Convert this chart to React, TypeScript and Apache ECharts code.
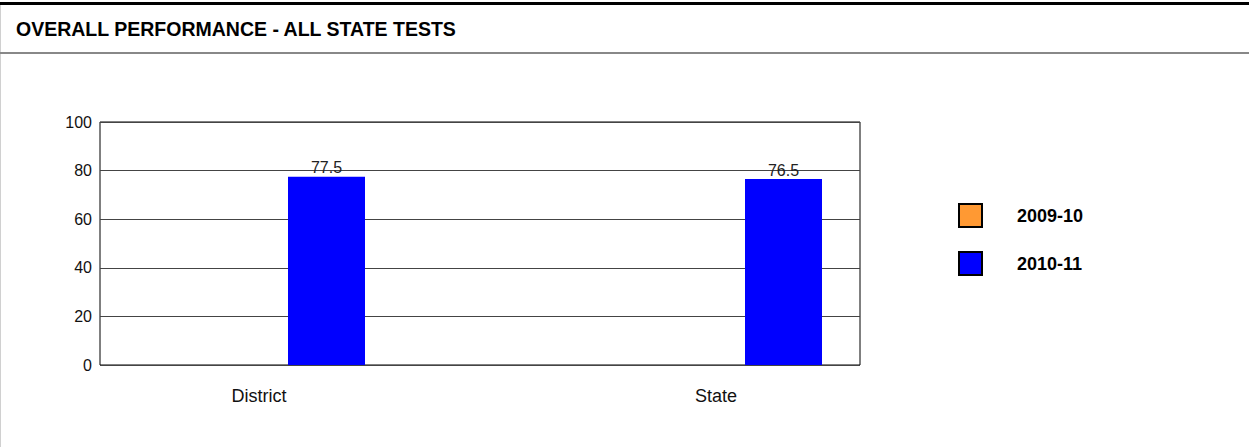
import React, { useEffect, useRef } from "react";
import * as echarts from "echarts";

const categories = ["District", "State"];
const seriesNames = ["2009-10", "2010-11"];
const values2009 = [null, null];
const values2010 = [77.5, 76.5];
const yTicks = [0, 20, 40, 60, 80, 100];

const FONT = "'Liberation Sans', Arial, Helvetica, sans-serif";

export default function App() {
  const ref = useRef<HTMLDivElement>(null);
  useEffect(() => {
    document.body.style.margin = "0";
    document.body.style.overflow = "hidden";
    const chart = echarts.init(ref.current!, null, { renderer: "svg" });
    chart.setOption({
      animation: false,
      backgroundColor: "#ffffff",
      textStyle: { fontFamily: FONT },
      graphic: [
        { type: "rect", shape: { x: 0, y: 2, width: 1249, height: 3 }, style: { fill: "#000" } },
        { type: "rect", shape: { x: 0, y: 5, width: 1, height: 442 }, style: { fill: "#d0d0d0" } },
        { type: "rect", shape: { x: 0, y: 52, width: 1249, height: 2 }, style: { fill: "#888888" } },
        {
          type: "text",
          x: 16,
          y: 29,
          style: {
            text: "OVERALL PERFORMANCE - ALL STATE TESTS",
            fontFamily: FONT,
            fontSize: 19.5,
            fontWeight: "bold",
            fill: "#000",
            verticalAlign: "middle",
          },
        },
      ],
      legend: {
        orient: "vertical",
        left: 953,
        top: 198,
        itemWidth: 23,
        itemHeight: 23,
        itemGap: 23,
        icon: "rect",
        selectedMode: false,
        itemStyle: { borderColor: "#000", borderWidth: 2 },
        textStyle: {
          fontFamily: FONT,
          fontSize: 18,
          fontWeight: "bold",
          color: "#000",
          padding: [0, 0, 0, 30],
        },
        data: seriesNames,
      },
      grid: [
        { left: 100, top: 122, width: 760, height: 243, show: true, borderColor: "#000", borderWidth: 1, backgroundColor: "transparent" },
        { left: 59.5, top: 122, width: 914, height: 243 },
      ],
      xAxis: [
        { gridIndex: 0, type: "category", data: categories, show: false },
        {
          gridIndex: 1,
          type: "category",
          data: categories,
          axisLine: { show: false },
          axisTick: { show: false },
          axisLabel: {
            fontFamily: FONT,
            fontSize: 18,
            color: "#111",
            margin: 22,
            padding: [0, 58, 0, 0],
          },
        },
      ],
      yAxis: [
        {
          gridIndex: 0,
          type: "value",
          min: 0,
          max: 100,
          interval: 20,
          axisLine: { show: false },
          axisTick: { show: false },
          axisLabel: {
            fontFamily: FONT,
            fontSize: 16,
            color: "#111",
            margin: 8,
            customValues: yTicks,
          },
          splitLine: { show: true, lineStyle: { color: "#444", width: 1 } },
        },
        { gridIndex: 1, type: "value", min: 0, max: 100, show: false, splitLine: { show: false } },
      ],
      series: [
        {
          name: seriesNames[0],
          type: "bar",
          xAxisIndex: 1,
          yAxisIndex: 1,
          data: values2009,
          barWidth: 77,
          barGap: "0%",
          itemStyle: { color: "#FF9933" },
        },
        {
          name: seriesNames[1],
          type: "bar",
          xAxisIndex: 1,
          yAxisIndex: 1,
          data: values2010,
          barWidth: 77,
          barGap: "0%",
          itemStyle: { color: "#0000FF" },
          label: {
            show: true,
            position: "top",
            distance: 1,
            fontFamily: FONT,
            fontSize: 16,
            color: "#222",
          },
        },
      ],
    });
    return () => chart.dispose();
  }, []);
  return (
    <div
      ref={ref}
      style={{ position: "absolute", left: 0, top: 0, width: 1249, height: 447 }}
    />
  );
}
